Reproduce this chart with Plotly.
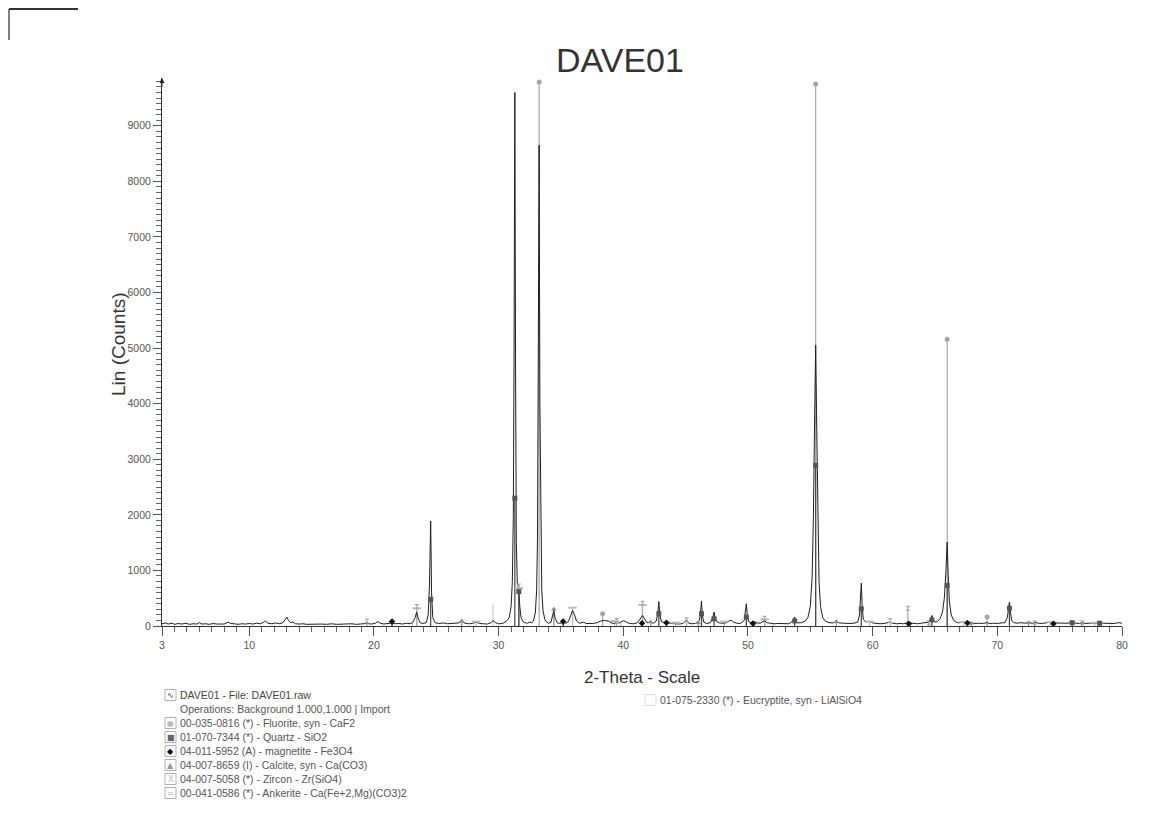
import plotly.graph_objects as go

# ---------------- data ----------------
two_theta = [3.0, 3.3, 3.5, 3.8, 4.0, 4.3, 4.6, 4.9, 5.2, 5.5, 5.8, 6.0, 6.2, 6.5, 6.8, 7.1, 7.4, 7.7, 8.0, 8.3,
             8.5, 8.8, 9.1, 9.4, 9.7, 10.0, 10.3, 10.6, 10.9, 11.1, 11.3, 11.5, 11.8, 12.1, 12.4, 12.7, 12.9, 13.02, 13.15, 13.3,
             13.5, 13.7, 14.0, 14.3, 14.6, 15.0, 15.4, 15.8, 16.2, 16.6, 17.0, 17.4, 17.8, 18.2, 18.6, 19.0, 19.4, 19.8, 20.1, 20.33,
             20.5, 20.8, 21.1, 21.45, 21.7, 22.0, 22.3, 22.6, 22.9, 23.1, 23.3, 23.43, 23.55, 23.7, 23.9, 24.2, 24.35, 24.45, 24.55, 24.62,
             24.72, 24.9, 25.2, 25.6, 25.9, 26.2, 26.5, 26.8, 27.04, 27.3, 27.6, 27.9, 28.2, 28.5, 28.8, 29.1, 29.4, 29.55, 29.75, 30.0,
             30.3, 30.6, 30.85, 31.0, 31.1, 31.18, 31.24, 31.3, 31.36, 31.42, 31.5, 31.6, 31.7, 31.8, 31.95, 32.1, 32.3, 32.5, 32.65, 32.8,
             32.95, 33.05, 33.12, 33.18, 33.25, 33.31, 33.38, 33.46, 33.56, 33.7, 33.85, 34.0, 34.2, 34.35, 34.43, 34.52, 34.7, 34.9, 35.18, 35.4,
             35.6, 35.8, 35.93, 36.05, 36.25, 36.5, 36.84, 37.0, 37.3, 37.6, 37.9, 38.2, 38.5, 38.8, 39.0, 39.2, 39.46, 39.7, 39.9, 40.04,
             40.25, 40.5, 40.8, 41.1, 41.3, 41.54, 41.7, 41.9, 42.2, 42.4, 42.65, 42.78, 42.85, 42.92, 43.05, 43.3, 43.46, 43.7, 43.9, 44.2,
             44.5, 44.8, 45.07, 45.25, 45.5, 45.8, 46.1, 46.2, 46.27, 46.34, 46.45, 46.7, 47.0, 47.2, 47.28, 47.36, 47.5, 47.7, 48.0, 48.3,
             48.5, 48.67, 48.85, 49.1, 49.4, 49.7, 49.8, 49.87, 49.94, 50.05, 50.3, 50.54, 50.75, 51.0, 51.2, 51.34, 51.5, 51.8, 52.1, 52.4,
             52.7, 53.0, 53.3, 53.55, 53.68, 53.75, 53.85, 54.0, 54.3, 54.6, 54.8, 55.0, 55.15, 55.25, 55.35, 55.43, 55.5, 55.6, 55.7, 55.82,
             56.0, 56.2, 56.5, 56.8, 57.09, 57.3, 57.6, 57.9, 58.2, 58.5, 58.8, 58.95, 59.02, 59.09, 59.16, 59.25, 59.45, 59.75, 60.0, 60.3,
             60.6, 60.9, 61.2, 61.41, 61.6, 61.9, 62.2, 62.5, 62.7, 62.82, 63.0, 63.3, 63.6, 63.9, 64.2, 64.5, 64.65, 64.75, 64.85, 65.0,
             65.2, 65.4, 65.6, 65.75, 65.88, 65.98, 66.06, 66.15, 66.3, 66.5, 66.7, 66.9, 67.2, 67.4, 67.7, 67.9, 68.2, 68.5, 68.8, 69.18,
             69.4, 69.7, 70.0, 70.3, 70.6, 70.8, 70.9, 70.97, 71.05, 71.15, 71.35, 71.6, 71.9, 72.2, 72.5, 72.8, 73.1, 73.4, 73.7, 74.0,
             74.3, 74.6, 74.9, 75.2, 75.5, 75.8, 76.0, 76.3, 76.6, 76.8, 77.1, 77.4, 77.7, 78.0, 78.2, 78.5, 78.8, 79.1, 79.4, 79.7,
             80.0]
counts = [40, 55, 35, 50, 30, 45, 35, 50, 30, 40, 35, 60, 35, 40, 30, 45, 35, 40, 35, 70,
          45, 40, 30, 40, 35, 45, 35, 50, 40, 60, 90, 50, 40, 55, 40, 60, 120, 160, 100, 60,
          70, 40, 35, 40, 30, 35, 30, 35, 30, 40, 30, 35, 30, 40, 30, 35, 45, 35, 50, 80,
          50, 35, 40, 55, 40, 45, 35, 50, 40, 60, 150, 250, 140, 60, 45, 60, 200, 700, 1890, 600,
          150, 60, 45, 55, 40, 45, 40, 55, 90, 50, 40, 45, 70, 45, 40, 35, 60, 100, 60, 40,
          45, 80, 150, 350, 800, 2000, 5000, 9600, 4500, 1500, 750, 700, 350, 150, 80, 60, 50, 70, 60, 90,
          250, 650, 1600, 4000, 8650, 4000, 1600, 650, 280, 120, 70, 50, 70, 180, 280, 150, 60, 45, 70, 50,
          80, 200, 280, 220, 90, 50, 70, 45, 40, 45, 60, 90, 100, 90, 60, 45, 60, 55, 85, 95,
          70, 45, 40, 55, 110, 190, 130, 60, 70, 50, 90, 250, 440, 220, 80, 60, 70, 55, 45, 40,
          35, 45, 110, 50, 40, 45, 100, 250, 450, 200, 70, 45, 60, 180, 250, 150, 80, 55, 50, 60,
          95, 100, 70, 50, 45, 100, 250, 400, 200, 80, 55, 75, 55, 50, 80, 90, 60, 45, 40, 45,
          40, 45, 40, 80, 140, 160, 90, 55, 60, 90, 150, 350, 900, 2000, 3800, 5050, 3800, 1800, 800, 350,
          150, 90, 60, 55, 80, 55, 50, 45, 45, 50, 70, 200, 450, 770, 350, 120, 70, 85, 55, 45,
          40, 45, 55, 70, 50, 40, 45, 40, 55, 70, 55, 45, 40, 50, 55, 70, 120, 190, 110, 70,
          80, 130, 250, 500, 1000, 1510, 900, 450, 200, 100, 70, 55, 80, 60, 70, 55, 45, 50, 45, 60,
          45, 50, 45, 55, 60, 150, 300, 430, 250, 100, 60, 50, 60, 50, 65, 50, 60, 45, 50, 55,
          70, 55, 50, 45, 50, 55, 70, 50, 45, 60, 45, 50, 45, 55, 65, 50, 45, 50, 45, 60,
          50]

# reference stick patterns (position, intensity)
fluorite_pos = [33.25, 38.34, 55.43, 65.98, 69.18]
fluorite_int = [9790, 220, 9750, 5160, 160]
quartz_pos = [24.55, 31.3, 31.62, 42.85, 46.27, 47.28, 49.87, 53.75, 55.43, 59.09, 64.75, 65.98, 70.97, 76.0, 78.2]
quartz_int = [480, 2300, 620, 220, 220, 130, 160, 90, 2890, 310, 110, 730, 320, 60, 50]
magnetite_pos = [21.45, 35.18, 41.5, 43.46, 50.4, 62.9, 67.6, 74.5]
magnetite_int = [80, 80, 50, 60, 45, 40, 55, 40]
calcite_pos = [27.04, 34.43, 42.2, 46.0, 50.5, 57.09, 67.9, 72.5]
calcite_int = [90, 300, 70, 60, 55, 75, 50, 60]
zircon_pos = [19.43, 23.43, 31.62, 39.46, 41.54, 45.07, 51.34, 61.41, 62.82, 64.5, 73.0, 76.8]
zircon_int = [90, 350, 720, 100, 410, 110, 140, 100, 320, 60, 60, 60]
ankerite_pos = [23.43, 28.2, 31.62, 35.93, 39.3, 41.54, 44.2, 48.1, 51.34, 59.75, 67.3, 74.3, 77.8]
ankerite_int = [320, 80, 680, 330, 90, 380, 60, 80, 120, 80, 70, 70, 60]
eucryptite_pos = [23.1, 29.55, 39.8, 52.0]
eucryptite_int = [60, 400, 80, 60]

legend_lines = [
    "DAVE01 - File: DAVE01.raw",
    "Operations: Background 1.000,1.000 | Import",
    "00-035-0816 (*) - Fluorite, syn - CaF2",
    "01-070-7344 (*) - Quartz - SiO2",
    "04-011-5952 (A) - magnetite - Fe3O4",
    "04-007-8659 (I) - Calcite, syn - Ca(CO3)",
    "04-007-5058 (*) - Zircon - Zr(SiO4)",
    "00-041-0586 (*) - Ankerite - Ca(Fe+2,Mg)(CO3)2",
]
legend_glyphs = ["∿", "", "●", "■", "◆", "▲", "X", "="]
legend_glyph_colors = ["#333333", "", "#bbbbbb", "#666666", "#111111", "#999999", "#bbbbbb", "#bbbbbb"]
eucryptite_label = "01-075-2330 (*) - Eucryptite, syn - LiAlSiO4"

x_tickvals = [3, 10, 20, 30, 40, 50, 60, 70, 80]
y_tickvals = [0, 1000, 2000, 3000, 4000, 5000, 6000, 7000, 8000, 9000]

FONT = "Liberation Sans, Arial, sans-serif"
OFF = 8  # page body margin
W, H = 1151 - OFF, 839 - OFF
L, R, T, B = 162 - OFF, 29, 78 - OFF, 213
PW, PH = W - L - R, H - T - B


def px(xp):  # page pixel x -> paper
    return (xp - OFF - L) / PW


def py(yp):  # page pixel y -> paper
    return (H - B - (yp - OFF)) / PH


def sticks(pos, inten):
    xs, ys = [], []
    for p, h in zip(pos, inten):
        xs += [p, p, None]
        ys += [0, h, None]
    return xs, ys


fig = go.Figure()

phases = [
    (eucryptite_pos, eucryptite_int, "#cccccc", None),
    (ankerite_pos, ankerite_int, "#bbbbbb", "line-ew"),
    (zircon_pos, zircon_int, "#aaaaaa", "hourglass"),
    (calcite_pos, calcite_int, "#8c8c8c", "triangle-up"),
    (magnetite_pos, magnetite_int, "#111111", "diamond"),
    (fluorite_pos, fluorite_int, "#a5a5a5", "circle"),
]
for pos, inten, col, sym in phases:
    xs, ys = sticks(pos, inten)
    fig.add_trace(go.Scatter(x=xs, y=ys, mode="lines", line=dict(color=col, width=1.2),
                             hoverinfo="skip", showlegend=False))

# measured pattern
fig.add_trace(go.Scatter(x=two_theta, y=counts, mode="lines", line=dict(color="#1e1e1e", width=1),
                         showlegend=False))

# quartz sticks (dark, drawn over the pattern)
xs, ys = sticks(quartz_pos, quartz_int)
fig.add_trace(go.Scatter(x=xs, y=ys, mode="lines", line=dict(color="#444444", width=1.2),
                         hoverinfo="skip", showlegend=False))

# stick top markers
for pos, inten, col, sym in phases:
    if sym is None:
        continue
    mk = dict(color=col, size=5, symbol=sym)
    if sym == "line-ew":
        mk = dict(color=col, size=6, symbol=sym, line=dict(color=col, width=2))
    fig.add_trace(go.Scatter(x=pos, y=inten, mode="markers", marker=mk, cliponaxis=False,
                             hoverinfo="skip", showlegend=False))
fig.add_trace(go.Scatter(x=quartz_pos, y=quartz_int, mode="markers",
                         marker=dict(color="#555555", size=5, symbol="square"),
                         hoverinfo="skip", showlegend=False))

annotations = []
shapes = []

# legend block (bottom-left)
legend_y0, legend_dy = 695.0, 14.0
for i, (txt, gl, gc) in enumerate(zip(legend_lines, legend_glyphs, legend_glyph_colors)):
    yy = legend_y0 + i * legend_dy
    annotations.append(dict(x=px(178), y=py(yy), xref="paper", yref="paper", text=txt,
                            showarrow=False, xanchor="left", yanchor="middle",
                            font=dict(family=FONT, size=10.5, color="#444444" if i == 0 else "#555555")))
    if gl:
        shapes.append(dict(type="rect", xref="paper", yref="paper",
                           x0=px(165), x1=px(176), y0=py(yy + 5.5), y1=py(yy - 5.5),
                           line=dict(color="#b0b0b0", width=1)))
        annotations.append(dict(x=px(170.5), y=py(yy), xref="paper", yref="paper", text=gl,
                                showarrow=False, xanchor="center", yanchor="middle",
                                font=dict(family="DejaVu Sans", size=8, color=gc)))

# eucryptite legend entry
shapes.append(dict(type="rect", xref="paper", yref="paper",
                   x0=px(645), x1=px(656), y0=py(705.5), y1=py(694.5),
                   line=dict(color="#dddddd", width=1)))
annotations.append(dict(x=px(658), y=py(700), xref="paper", yref="paper", text=eucryptite_label,
                        showarrow=False, xanchor="left", yanchor="middle",
                        font=dict(family=FONT, size=10.5, color="#555555")))

# axis titles
annotations.append(dict(x=px(118), y=py(344), xref="paper", yref="paper", text="Lin (Counts)",
                        showarrow=False, textangle=-90, xanchor="center", yanchor="middle",
                        font=dict(family=FONT, size=19, color="#333333")))
annotations.append(dict(x=px(642), y=py(677), xref="paper", yref="paper", text="2-Theta - Scale",
                        showarrow=False, xanchor="center", yanchor="middle",
                        font=dict(family=FONT, size=17, color="#333333")))

# arrow at top of the y axis
annotations.append(dict(x=0, y=1, xref="paper", yref="paper", text="", showarrow=True,
                        ax=0, ay=10, arrowhead=2, arrowsize=1, arrowwidth=1, arrowcolor="#222222"))

# scan border artifact at top-left
shapes.append(dict(type="line", xref="paper", yref="paper", x0=px(9), x1=px(78), y0=py(9), y1=py(9),
                   line=dict(color="#333333", width=2)))
shapes.append(dict(type="line", xref="paper", yref="paper", x0=px(9), x1=px(9), y0=py(9), y1=py(40),
                   line=dict(color="#555555", width=1.5)))

fig.update_layout(
    width=W, height=H,
    margin=dict(l=L, r=R, t=T, b=B),
    paper_bgcolor="white", plot_bgcolor="white",
    font=dict(family=FONT, color="#444444"),
    title=dict(text="DAVE01", x=(620 - OFF) / W, y=1 - (60 - OFF) / H, xanchor="center", yanchor="middle",
               xref="container", yref="container",
               font=dict(family=FONT, size=34, color="#333333")),
    xaxis=dict(range=[3, 80], tickmode="array", tickvals=x_tickvals,
               ticktext=[str(v) for v in x_tickvals],
               showline=True, linecolor="#333333", linewidth=1,
               ticks="outside", ticklen=9, tickcolor="#555555", tickwidth=1,
               minor=dict(tickmode="linear", tick0=0, dtick=1, ticks="outside", ticklen=5,
                          tickcolor="#666666"),
               showgrid=False, zeroline=False,
               tickfont=dict(family=FONT, size=10.5, color="#555555")),
    yaxis=dict(range=[0, 9860], tickmode="array", tickvals=y_tickvals,
               ticktext=[str(v) for v in y_tickvals],
               showline=True, linecolor="#333333", linewidth=1,
               ticks="outside", ticklen=8, tickcolor="#555555", tickwidth=1,
               ticklabelstandoff=0,
               minor=dict(tickmode="linear", tick0=0, dtick=100, ticks="outside", ticklen=5,
                          tickcolor="#666666"),
               showgrid=False, zeroline=False,
               tickfont=dict(family=FONT, size=10.5, color="#555555")),
    annotations=annotations,
    shapes=shapes,
    showlegend=False,
)

fig.write_html("out.html")
